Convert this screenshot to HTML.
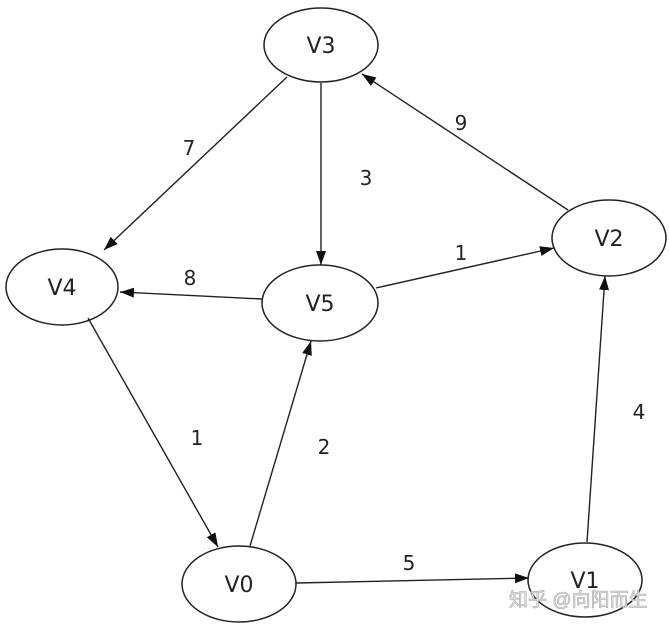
<!DOCTYPE html>
<html><head><meta charset="utf-8"><style>
html,body{margin:0;padding:0;background:#fff;}
svg{display:block;}
text{font-family:"DejaVu Sans","Liberation Sans",sans-serif;fill:#222;}
</style></head><body>
<svg width="669" height="626" viewBox="0 0 669 626" xmlns="http://www.w3.org/2000/svg">
<defs>
<marker id="a" viewBox="0 0 14 10" refX="14" refY="5" markerWidth="14" markerHeight="10" markerUnits="userSpaceOnUse" orient="auto">
<path d="M0,0 L14,5 L0,10 z" fill="#111"/>
</marker>
</defs>
<g fill="none" stroke="#222" stroke-width="1.5">
<ellipse cx="321" cy="45" rx="57" ry="37"/>
<ellipse cx="62" cy="287" rx="56" ry="38"/>
<ellipse cx="320" cy="303" rx="58" ry="38"/>
<ellipse cx="609" cy="238" rx="57" ry="38"/>
<ellipse cx="239" cy="584" rx="57" ry="38"/>
<ellipse cx="585" cy="580" rx="57" ry="37"/>
</g>
<g stroke="#222" stroke-width="1.4" fill="none">
<line x1="287" y1="77" x2="104" y2="250" marker-end="url(#a)"/>
<line x1="321" y1="83" x2="321" y2="265" marker-end="url(#a)"/>
<line x1="568" y1="210" x2="362" y2="74" marker-end="url(#a)"/>
<line x1="376" y1="288" x2="554" y2="248" marker-end="url(#a)"/>
<line x1="262" y1="299" x2="120" y2="292" marker-end="url(#a)"/>
<line x1="88" y1="318" x2="218" y2="547" marker-end="url(#a)"/>
<line x1="250" y1="546" x2="311" y2="341" marker-end="url(#a)"/>
<line x1="296" y1="583" x2="529" y2="578" marker-end="url(#a)"/>
<line x1="587" y1="542" x2="605" y2="276" marker-end="url(#a)"/>
</g>
<g font-size="22" text-anchor="middle">
<text x="321" y="53">V3</text>
<text x="62" y="295">V4</text>
<text x="320" y="311">V5</text>
<text x="609" y="246">V2</text>
<text x="239" y="592">V0</text>
<text x="585" y="588">V1</text>
</g>
<g font-size="20" text-anchor="middle">
<text x="189" y="155">7</text>
<text x="366" y="185">3</text>
<text x="461" y="130">9</text>
<text x="461" y="260">1</text>
<text x="190" y="285">8</text>
<text x="197" y="445">1</text>
<text x="324" y="454">2</text>
<text x="639" y="419">4</text>
<text x="409" y="570">5</text>
</g>
<text x="509" y="606" font-size="19" style="font-family:'Liberation Sans','Noto Sans CJK SC',sans-serif;fill:#e4e4e4;stroke:#aaa;stroke-width:0.6">知乎 @向阳而生</text>
</svg>
</body></html>
